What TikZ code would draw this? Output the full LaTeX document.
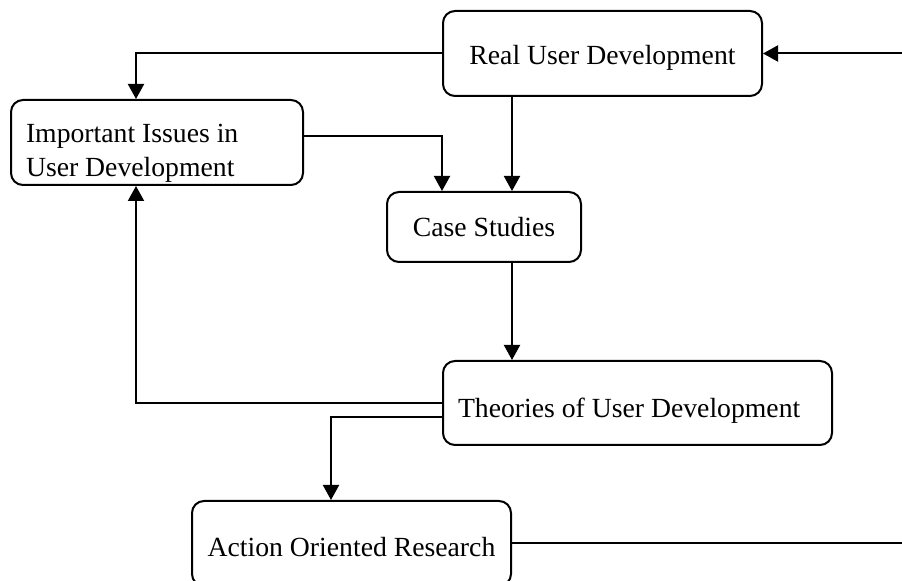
\documentclass[tikz,border=0pt]{standalone}
\usepackage{fontspec}
\setmainfont{Liberation Serif}
\usepackage{tikz}
\usetikzlibrary{arrows.meta,positioning,calc}

\begin{document}
\begin{tikzpicture}[x=0.5pt,y=-0.5pt,
  box/.style={draw,line width=1pt,rounded corners=6pt,font=\fontsize{13.85}{17}\selectfont,inner sep=0pt,text depth=3pt},
  arr/.style={line width=1pt,-{Triangle[length=7.5pt,width=8pt]}},
  ln/.style={line width=1pt}]
\useasboundingbox (0,0) rectangle (902,581);
% boxes
\node[box,minimum width=159.5pt,minimum height=42.5pt,text height=14.4pt] (real) at (602.5,53.5) {Real User Development};
\node[box,minimum width=146pt,minimum height=42.5pt,text width=131pt,align=flush left,inner xsep=7.5pt,
   text height=20.4pt,text depth=20pt] (issues) at (157,142.5)
   {Important Issues in\\User Development};
\node[box,minimum width=97pt,minimum height=35pt,text height=12.4pt] (case) at (484,227) {Case Studies};
\node[box,minimum width=194.5pt,minimum height=42pt,text width=179.5pt,align=flush left,inner xsep=7.5pt,
   text height=17.4pt] (theories) at (637.5,403)
   {Theories of User Development};
\node[box,minimum width=159.5pt,minimum height=42.5pt,text height=16.4pt] (action) at (351.5,543.5) {Action Oriented Research};
% free ends at the right border
\coordinate (edgetop) at (902,51);
\coordinate (edgebot) at (902,544);
% connectors
\draw[arr] (real.west) -| ([xshift=-10.5pt]issues.north);
\draw[arr] ([yshift=3pt]issues.east) -| (case.north -| real.west);
\draw[arr] ([xshift=14pt]case.north |- real.south) -- ([xshift=14pt]case.north);
\draw[arr] ([xshift=14pt]case.south) -- ([xshift=14pt]case.south |- theories.north);
\draw[arr] (theories.west) -| ([xshift=-10.5pt]issues.south);
\draw[arr] ([yshift=-7pt]theories.west) -| ([xshift=-10.25pt]action.north);
\draw[ln] (action.east) -- (action.east -| edgebot);
\draw[arr] (real.east -| edgetop) -- (real.east);
\end{tikzpicture}
\end{document}
